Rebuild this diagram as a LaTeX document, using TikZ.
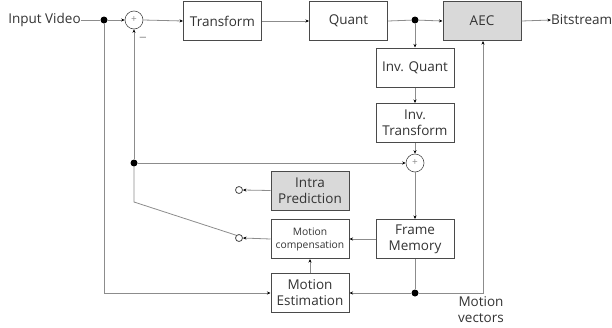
\documentclass[tikz,border=0pt]{standalone}
\usepackage{fontspec}
\setmainfont{Open Sans}
\usetikzlibrary{arrows.meta}
\definecolor{ln}{HTML}{8C8C8C}
\definecolor{bx}{HTML}{4A4A4A}
\definecolor{gf}{HTML}{D9D9D9}
\definecolor{tx}{HTML}{333333}
\begin{document}
\begin{tikzpicture}[x=1pt,y=-1pt,
  blk/.style={draw=bx,line width=1pt,minimum width=78pt,minimum height=39pt,inner sep=1pt,align=center,font=\fontsize{13.5}{16}\selectfont,text=tx},
  gblk/.style={blk,fill=gf},
  sumc/.style={circle,draw=bx,line width=0.6pt,minimum size=18pt,inner sep=0pt,font=\fontsize{10}{10}\selectfont,text=ln},
  dot/.style={circle,fill=black,minimum size=7pt,inner sep=0pt},
  odot/.style={circle,draw=bx,line width=0.8pt,fill=white,minimum size=7pt,inner sep=0pt},
  lbl/.style={font=\fontsize{13.5}{16}\selectfont,text=tx,inner sep=0pt},
  wire/.style={draw=ln,line width=0.8pt},
  arr/.style={wire,-{Stealth[length=3.5pt,width=3pt,color=black]}}]
\useasboundingbox (0,0) rectangle (612,327);
% nodes
\node[lbl] (inp) at (44.5,20) {Input Video};
\node[dot] (d1) at (104,20) {};
\node[sumc] (s1) at (134,20) {+};
\node[blk] (tr) at (222.5,21) {Transform};
\node[blk] (qu) at (348.5,21) {Quant};
\node[dot] (d2) at (415,20) {};
\node[gblk] (aec) at (482,21) {AEC};
\node[lbl,anchor=west] (bit) at (551,20) {Bitstream};
\node[blk] (iq) at (415,67.5) {Inv. Quant};
\node[blk] (it) at (415,123) {Inv.\\Transform};
\node[sumc] (s2) at (415,163) {+};
\node[dot] (d3) at (134,163) {};
\node[blk] (fm) at (415,239) {Frame\\Memory};
\node[gblk] (ip) at (310,190.5) {Intra\\Prediction};
\node[blk,font=\fontsize{10.3}{13}\selectfont] (mc) at (310,239) {Motion\\compensation};
\node[blk] (me) at (310,293) {Motion\\Estimation};
\node[dot] (d4) at (415,293) {};
\node[odot] (c1) at (239,190) {};
\node[odot] (c2) at (239,238) {};
\coordinate (sw) at (134,202);
\coordinate (bl) at (104,293);
\coordinate (br) at (483,293);
\node[lbl,align=center] (mv) at (481,310) {Motion\\vectors};
\node[lbl,text=ln] (minus) at (143,40) {\textminus};
% wires
\draw[wire] (inp.east) -- (d1);
\draw[arr] (d1) -- (s1.west);
\draw[arr] (s1.east) -- (tr.west);
\draw[arr] (tr.east) -- (qu.west);
\draw[wire] (qu.east) -- (d2);
\draw[arr] (d2) -- (aec.west);
\draw[arr] (aec.east) -- (bit.west);
\draw[arr] (d2) -- (iq.north);
\draw[arr] (iq.south) -- (it.north);
\draw[arr] (it.south) -- (s2.north);
\draw[arr] (d3) -- (s1.south);
\draw[arr] (d3) -- (s2.west);
\draw[arr] (s2.south) -- (fm.north);
\draw[arr] (fm.west) -- (mc.east);
\draw[wire] (fm.south) -- (d4);
\draw[arr] (d4) -- (me.east);
\draw[arr] (d4) -- (br) -- (br |- aec.south);
\draw[arr] (d1) -- (bl) -- (me.west);
\draw[arr] (me.north) -- (mc.south);
\draw[arr] (ip.west) -- (c1.east);
\draw[arr] (mc.west) -- (c2.east);
\draw[wire] (c2.north west) -- (sw) -- (d3);
\end{tikzpicture}
\end{document}
